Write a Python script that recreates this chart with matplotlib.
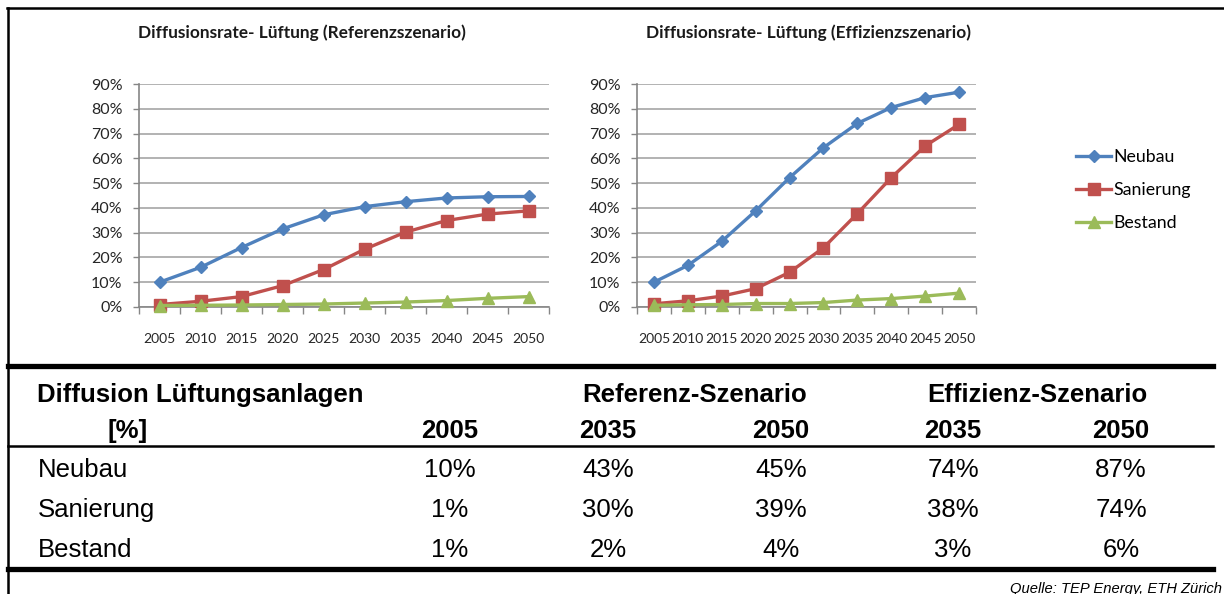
import numpy as np
import matplotlib
matplotlib.use("Agg")
import matplotlib.pyplot as plt
from matplotlib.lines import Line2D

# --- data -------------------------------------------------------------
years = [2005, 2010, 2015, 2020, 2025, 2030, 2035, 2040, 2045, 2050]
series_names = ["Neubau", "Sanierung", "Bestand"]

ref_neubau = [0.10, 0.16, 0.24, 0.315, 0.372, 0.405, 0.425, 0.44, 0.445, 0.446]
ref_sanierung = [0.01, 0.023, 0.042, 0.086, 0.151, 0.233, 0.302, 0.349, 0.375, 0.388]
ref_bestand = [0.006, 0.007, 0.008, 0.01, 0.012, 0.016, 0.02, 0.026, 0.035, 0.042]

eff_neubau = [0.10, 0.168, 0.265, 0.388, 0.522, 0.643, 0.741, 0.805, 0.845, 0.867]
eff_sanierung = [0.013, 0.025, 0.044, 0.074, 0.14, 0.239, 0.377, 0.522, 0.65, 0.737]
eff_bestand = [0.007, 0.009, 0.01, 0.014, 0.014, 0.018, 0.028, 0.034, 0.044, 0.056]

table_title = "Diffusion Lüftungsanlagen"
table_unit = "[%]"
table_groups = ["Referenz-Szenario", "Effizienz-Szenario"]
table_years = ["2005", "2035", "2050", "2035", "2050"]
table_rows = ["Neubau", "Sanierung", "Bestand"]
table_values = [
    ["10%", "43%", "45%", "74%", "87%"],
    ["1%", "30%", "39%", "38%", "74%"],
    ["1%", "2%", "4%", "3%", "6%"],
]
source = "Quelle: TEP Energy, ETH Zürich"

colors = ["#4F81BD", "#C0504D", "#9BBB59"]
markers = ["D", "s", "^"]
msizes = [6.5, 8.5, 9]

W, H = 1224, 594


def fx(x):
    return x / W


def fy(y):
    return 1 - y / H


fig = plt.figure(figsize=(W / 100, H / 100), dpi=100)
chart_font = ["Lato", "DejaVu Sans"]
table_font = ["Liberation Sans", "DejaVu Sans"]


def draw_chart(ax, data):
    x = np.arange(len(years))
    for vals, c, m, ms, name in zip(data, colors, markers, msizes, series_names):
        ax.plot(x, vals, color=c, lw=2.4, marker=m, ms=ms, mec=c, mfc=c,
                label=name, zorder=3, clip_on=False)
    ax.set_xlim(-0.5, len(years) - 0.5)
    ax.set_ylim(0, 0.9)
    ax.set_yticks(np.arange(0, 0.91, 0.1))
    ax.set_yticklabels([f"{int(round(v * 100))}%" for v in np.arange(0, 0.91, 0.1)],
                       fontfamily=chart_font, fontsize=11.5, color="#262626")
    ax.set_xticks(np.arange(-0.5, len(years), 1))
    ax.set_xticklabels([])
    ax.set_xticks(x, minor=True)
    ax.set_xticklabels([str(y) for y in years], minor=True,
                       fontfamily=chart_font, fontsize=10, color="#262626")
    ax.tick_params(axis="x", which="major", length=5, color="#868686", width=1)
    ax.tick_params(axis="x", which="minor", length=0, pad=19)
    ax.tick_params(axis="y", length=4, color="#868686", width=1, pad=8)
    ax.grid(axis="y", color="#A6A6A6", lw=1.2, zorder=0)
    for s in ["top", "right"]:
        ax.spines[s].set_visible(False)
    for s in ["left", "bottom"]:
        ax.spines[s].set_color("#868686")
        ax.spines[s].set_linewidth(1.2)


ax1 = fig.add_axes([fx(139), fy(307), fx(549) - fx(139), fy(84) - fy(307)])
draw_chart(ax1, [ref_neubau, ref_sanierung, ref_bestand])
ax2 = fig.add_axes([fx(637), fy(307), fx(976) - fx(637), fy(84) - fy(307)])
draw_chart(ax2, [eff_neubau, eff_sanierung, eff_bestand])

fig.text(fx(302), fy(33), "Diffusionsrate- Lüftung (Referenzszenario)",
         ha="center", va="center", fontfamily=chart_font, fontsize=12.4,
         fontweight="bold", color="#1a1a1a")
fig.text(fx(809), fy(33), "Diffusionsrate- Lüftung (Effizienzszenario)",
         ha="center", va="center", fontfamily=chart_font, fontsize=12.4,
         fontweight="bold", color="#1a1a1a")

handles, labels = ax2.get_legend_handles_labels()
fig.legend(handles, labels, loc="center left", bbox_to_anchor=(fx(1067), fy(190)),
           frameon=False, handlelength=2.0, handletextpad=0.1, labelspacing=0.95,
           borderpad=0, prop={"family": chart_font, "size": 12.8})

# --- frame --------------------------------------------------------------
fig.add_artist(Line2D([fx(7), 1], [fy(8), fy(8)], color="black", lw=1.8))
fig.add_artist(Line2D([fx(8), fx(8)], [fy(8), 0], color="black", lw=1.8))

# --- table --------------------------------------------------------------
fig.add_artist(Line2D([fx(8), fx(1213)], [fy(366), fy(366)], color="black", lw=3.8))
fig.add_artist(Line2D([fx(8), fx(1213)], [fy(446), fy(446)], color="black", lw=1.8))
fig.add_artist(Line2D([fx(8), fx(1213)], [fy(569), fy(569)], color="black", lw=3.8))

bold = dict(fontfamily=table_font, fontsize=18.5, fontweight="bold", color="black")
norm = dict(fontfamily=table_font, fontsize=18.5, color="black")

fig.text(fx(37), fy(402), table_title, ha="left", va="baseline", **bold)
fig.text(fx(128), fy(438), table_unit, ha="center", va="baseline", **bold)
group_x = [695, 1037]
for gx, g in zip(group_x, table_groups):
    fig.text(fx(gx), fy(402), g, ha="center", va="baseline", **bold)
col_x = [450, 608, 781, 953, 1121]
for cx, yr in zip(col_x, table_years):
    fig.text(fx(cx), fy(438), yr, ha="center", va="baseline", **bold)
row_y = [477, 517, 557]
for ry, name, vals in zip(row_y, table_rows, table_values):
    fig.text(fx(38), fy(ry), name, ha="left", va="baseline", **norm)
    for cx, v in zip(col_x, vals):
        fig.text(fx(cx), fy(ry), v, ha="center", va="baseline", **norm)

fig.text(fx(1222), fy(593), source, ha="right", va="baseline",
         fontfamily=table_font, fontsize=10.6, style="italic", color="black")

fig.savefig("out.png", dpi=100)
